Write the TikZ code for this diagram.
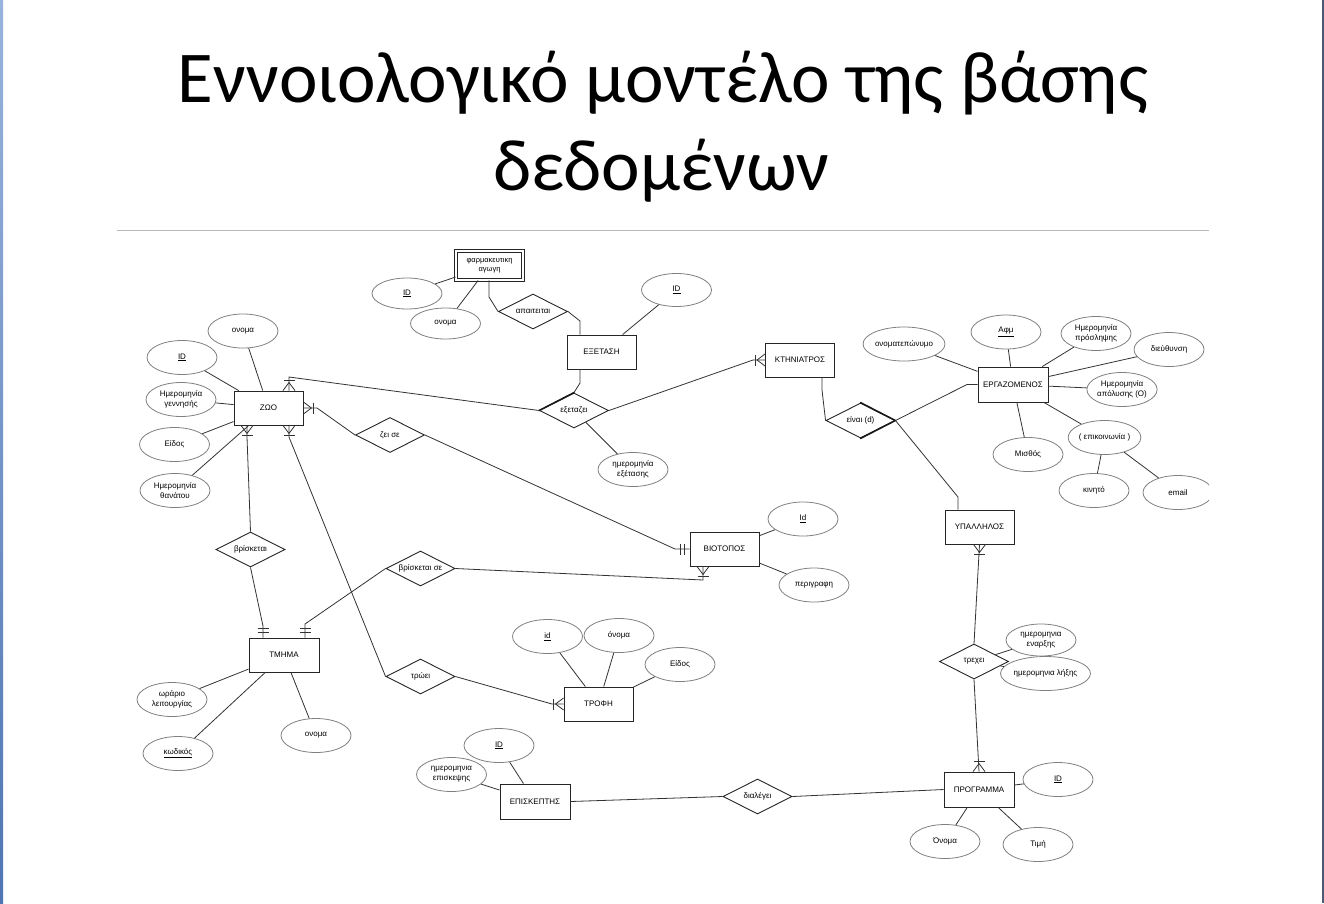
\documentclass[tikz,border=0pt]{standalone}
\usepackage{fontspec}
\setmainfont{Liberation Sans}
\newfontfamily\titlefont{Carlito}
\usetikzlibrary{shapes.geometric,calc}
\newcommand\erfnt{\fontsize{8pt}{10pt}\selectfont}
\definecolor{stripTop}{HTML}{98B4DC}
\definecolor{stripBot}{HTML}{4F75B3}
\definecolor{edgeR}{HTML}{4D5A72}
\tikzset{
  ent/.style={draw=black!85, line width=0.9pt, minimum width=69pt, minimum height=34pt, inner sep=0pt, font=\erfnt, fill=white, align=center},
  att/.style={ellipse, draw=black!50, line width=0.8pt, minimum width=70pt, minimum height=34pt, inner sep=0pt, font=\erfnt, align=center, fill=white},
  rel/.style={diamond, aspect=2, draw=black!85, line width=0.9pt, minimum width=69pt, minimum height=35pt, inner sep=0pt, font=\erfnt, fill=white},
  con/.style={draw=black!80, line width=0.8pt},
  thickedge/.style={draw=black!90, line width=1.5pt},
  onemany/.pic={\draw[con] (0,-6) -- (8,0) -- (0,6); \draw[con] (10,-5.5) -- (10,5.5);},
  mandone/.pic={\draw[con] (5,-5.5) -- (5,5.5); \draw[con] (9,-5.5) -- (9,5.5);}
}
\begin{document}
\begin{tikzpicture}[x=1pt,y=-1pt]
\useasboundingbox (0,0) rectangle (1324,903);
\fill[white] (0,0) rectangle (1324,903);
\shade[top color=stripTop, bottom color=stripBot] (0,0) rectangle (3,903);
\draw[edgeR, line width=1.5pt] (1323.2,0) -- (1323.2,903);
% title
\node[font=\titlefont\fontsize{73pt}{88pt}\selectfont, anchor=base, inner sep=0pt] (t1) at (663,102) {Εννοιολογικό μοντέλο της βάσης};
\node[font=\titlefont\fontsize{73pt}{88pt}\selectfont, anchor=base, inner sep=0pt] (t2) at (661.5,190) {δεδομένων};
\draw[black!28, line width=1pt] (117,230.5) -- (1209,230.5);

% entities
\node[ent, double, double distance=2pt, minimum width=67pt, minimum height=29pt, font=\fontsize{7.5pt}{9pt}\selectfont] (farm) at (489.5,265.5) {φαρμακευτικη\\αγωγη};
\node[ent] (exet) at (601.5,352) {ΕΞΕΤΑΣΗ};
\node[ent] (ktin) at (800,360) {ΚΤΗΝΙΑΤΡΟΣ};
\node[ent, minimum width=70pt, minimum height=35pt] (ergo) at (1013,384.5) {ΕΡΓΑΖΟΜΕΝΟΣ};
\node[ent] (zoo) at (268.5,408) {ΖΩΟ};
\node[ent] (bio) at (724.5,549) {ΒΙΟΤΟΠΟΣ};
\node[ent] (ypal) at (979.5,527) {ΥΠΑΛΛΗΛΟΣ};
\node[ent, minimum width=70pt] (tmima) at (284,655) {ΤΜΗΜΑ};
\node[ent] (trofi) at (598.5,704) {ΤΡΟΦΗ};
\node[ent, minimum width=70pt, minimum height=35pt] (episk) at (535,801.5) {ΕΠΙΣΚΕΠΤΗΣ};
\node[ent, minimum width=70pt, minimum height=35pt] (prog) at (979,789.5) {ΠΡΟΓΡΑΜΜΑ};

% relationships
\node[rel] (apa) at (533,311.5) {απαιτειται};
\node[rel] (exe) at (574,410.5) {εξεταζει};
\node[rel] (zei) at (390,435) {ζει σε};
\node[rel] (einai) at (860.5,420.5) {είναι (d)};
\node[rel] (vr1) at (250.5,549.5) {βρίσκεται};
\node[rel] (vr2) at (420.5,568.5) {βρίσκεται σε};
\node[rel] (troi) at (420.5,676.5) {τρώει};
\node[rel] (trex) at (974,661.5) {τρεχει};
\node[rel] (dial) at (757.5,796.5) {διαλέγει};
\draw[thickedge, line cap=round] (exe.west) -- (exe.north);
\draw[thickedge, line cap=round, line join=round] (einai.north) -- (einai.east) -- (einai.south);

% attributes
\node[att, minimum height=31pt] (fid) at (407,293.5) {\underline{ID}};
\node[att, minimum height=31pt] (fon) at (445.5,323.5) {ονομα};
\node[att, minimum height=33pt] (eid) at (676.5,290) {\underline{ID}};
\node[att] (hmex) at (633,469.5) {ημερομηνία\\εξέτασης};
\node[att] (zon) at (243,331) {ονομα};
\node[att] (zid) at (182,357.5) {\underline{ID}};
\node[att] (zgen) at (181,399.5) {Ημερομηνία\\γεννησής};
\node[att] (zeid) at (174.5,444.5) {Είδος};
\node[att] (zthan) at (175,490.5) {Ημερομηνία\\θανάτου};
\node[att] (onep) at (904,344) {ονοματεπώνυμο};
\node[att] (afm) at (1006,332) {\underline{Αφμ}};
\node[att] (hpros) at (1096,333.5) {Ημερομηνία\\πρόσληψης};
\node[att] (dieu) at (1169,349.5) {διεύθυνση};
\node[att] (hapol) at (1122,389.5) {Ημερομηνία\\απόλυσης (Ο)};
\node[att] (epik) at (1104.5,437.5) {( επικοινωνία )};
\node[att] (misth) at (1028,454.5) {Μισθός};
\node[att] (kin) at (1094,490.5) {κινητό};
\begin{scope}
\clip (0,0) rectangle (1209,903);
\node[att] (email) at (1178,492.5) {email};
\end{scope}
\node[att] (bid) at (803,519) {\underline{Id}};
\node[att] (peri) at (814,585) {περιγραφη};
\node[att] (tid) at (547.5,636.5) {\underline{id}};
\node[att] (ton) at (619,635.5) {όνομα};
\node[att] (teid) at (680,664.5) {Είδος};
\node[att] (wrar) at (172,699.5) {ωράριο\\λειτουργίας};
\node[att] (kwd) at (178,753.5) {\underline{κωδικός}};
\node[att] (mon) at (316,735.5) {ονομα};
\node[att] (vid) at (499,745.5) {\underline{ID}};
\node[att] (hmep) at (451.5,774.5) {ημερομηνια\\επισκεψης};
\node[att, minimum height=32pt] (enar) at (1041,640) {ημερομηνια\\εναρξης};
\node[att] (lix) at (1045.5,673.5) {ημερομηνια λήξης};
\node[att] (pid) at (1058,779.5) {\underline{ID}};
\node[att] (pon) at (945,841.5) {Όνομα};
\node[att] (tim) at (1038,844.5) {Τιμή};

% attribute lines
\foreach \a/\b in {fid/farm, fon/farm, eid/exet, hmex/exe, zon/zoo, zid/zoo, zgen/zoo, zeid/zoo, zthan/zoo,
  onep/ergo, afm/ergo, hpros/ergo, dieu/ergo, hapol/ergo, epik/ergo, misth/ergo, kin/epik, email/epik,
  bid/bio, peri/bio, tid/trofi, ton/trofi, teid/trofi, wrar/tmima, kwd/tmima, mon/tmima,
  vid/episk, hmep/episk, enar/trex, lix/trex, pid/prog, pon/prog, tim/prog}
  \draw[con] (\a) -- (\b);

% relationship connectors
\coordinate (c1) at (289,377);
\draw[con] (zoo.north -| c1) -- (c1) -- (exe.west);
\pic[rotate=90] at (zoo.north -| c1) {onemany};

\coordinate (c2) at (317,408);
\draw[con] (zoo.east) -- (c2) -- (zei.west);
\pic at (zoo.east) {onemany};
\coordinate (c3) at (675,549);
\draw[con] (zei.east) -- (c3) -- (bio.west);
\pic[rotate=180] at (bio.west) {mandone};

\coordinate (c4) at (247,437);
\draw[con] (zoo.south -| c4) -- (c4) -- (vr1.north);
\pic[rotate=-90] at (zoo.south -| c4) {onemany};
\coordinate (c5) at (263,626);
\draw[con] (vr1.south) -- (c5) -- (tmima.north -| c5);
\pic[rotate=90] at (tmima.north -| c5) {mandone};

\coordinate (c6) at (289,437);
\draw[con] (zoo.south -| c6) -- (c6) -- (troi.west);
\pic[rotate=-90] at (zoo.south -| c6) {onemany};
\coordinate (c7) at (552,704);
\draw[con] (troi.east) -- (c7) -- (trofi.west);
\pic[rotate=180] at (trofi.west) {onemany};

\coordinate (c8) at (305,624);
\draw[con] (tmima.north -| c8) -- (c8) -- (vr2.west);
\pic[rotate=90] at (tmima.north -| c8) {mandone};
\coordinate (c9) at (703,580);
\draw[con] (vr2.east) -- (c9) -- (bio.south -| c9);
\pic[rotate=-90] at (bio.south -| c9) {onemany};

\coordinate (c10) at (489,297);
\draw[con] (farm.south -| c10) -- (c10) -- (apa.west);
\coordinate (c11) at (580,321);
\draw[con] (apa.east) -- (c11) -- (exet.north -| c11);
\coordinate (c12) at (580,383);
\draw[con] (exet.south -| c12) -- (c12) -- (exe.north);
\coordinate (c13) at (753,360);
\draw[con] (exe.east) -- (c13) -- (ktin.west);
\pic[rotate=180] at (ktin.west) {onemany};

\coordinate (c14) at (822,390);
\draw[con] (ktin.south -| c14) -- (c14) -- (einai.west);
\coordinate (c15) at (967,384.5);
\draw[con] (einai.east) -- (c15) -- (ergo.west);
\coordinate (c16) at (958,497);
\draw[con] (einai.east) -- (c16) -- (ypal.north -| c16);

\draw[con] (ypal.south) -- (trex.north);
\pic[rotate=-90] at (ypal.south) {onemany};
\draw[con] (trex.south) -- (prog.north);
\pic[rotate=90] at (prog.north) {onemany};

\draw[con] (episk.east) -- (dial.west);
\draw[con] (dial.east) -- (prog.west);
\end{tikzpicture}
\end{document}
